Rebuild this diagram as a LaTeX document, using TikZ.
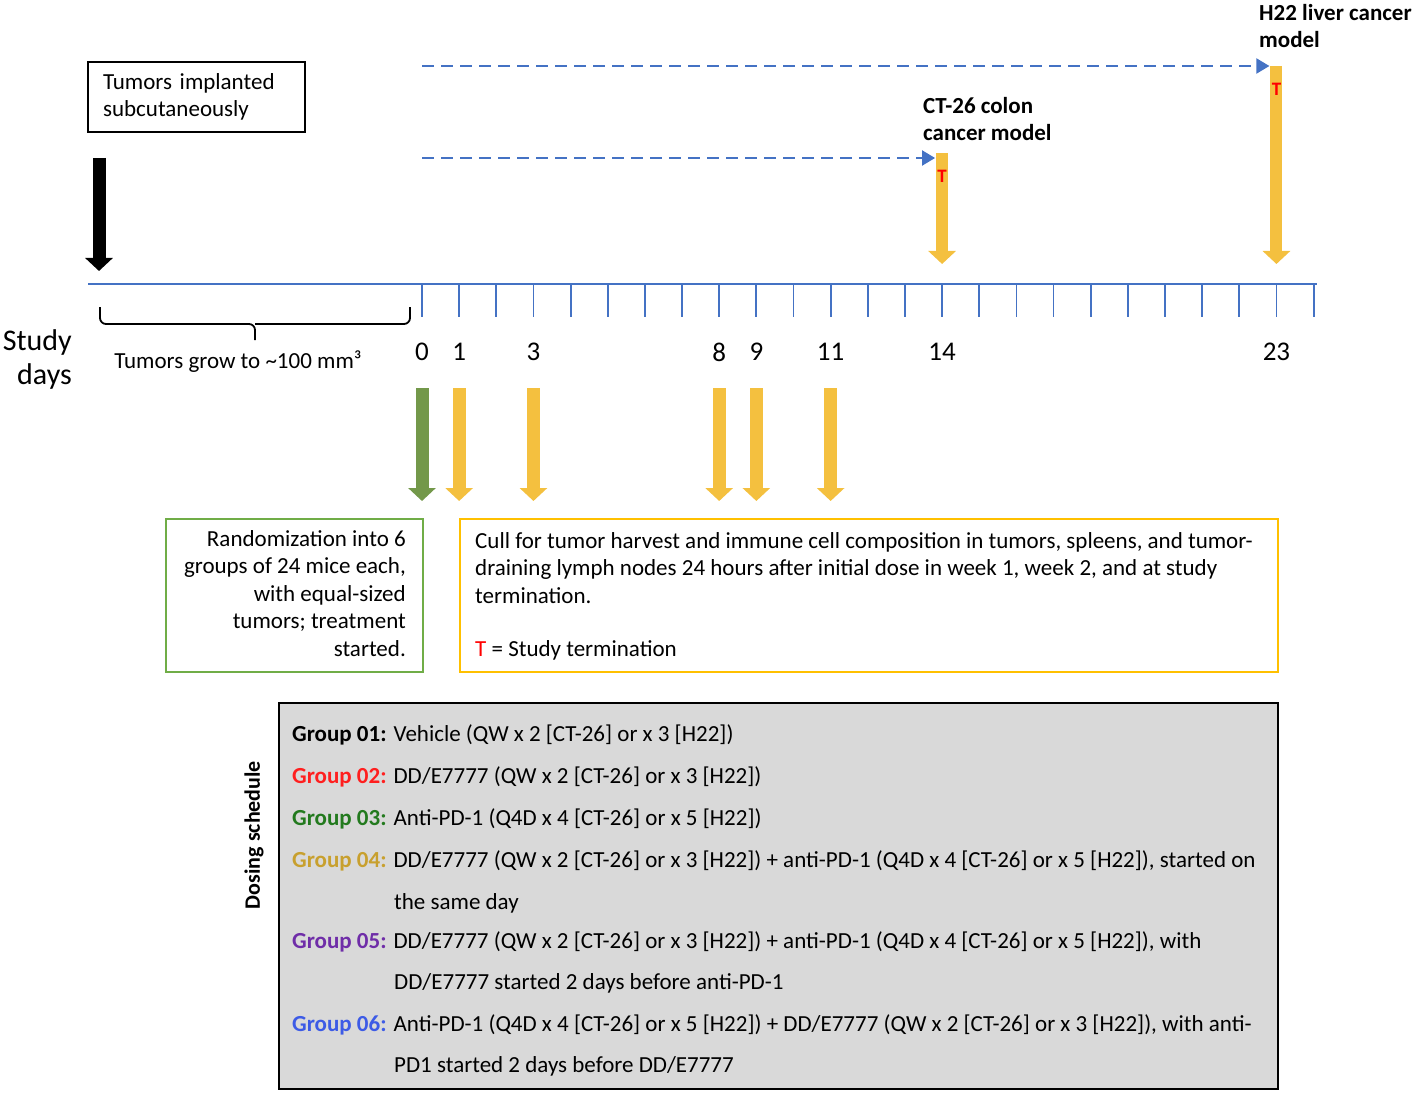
\documentclass[tikz,border=0pt]{standalone}
\usepackage{fontspec}
\setmainfont{Carlito}
\usetikzlibrary{arrows.meta,positioning}

\definecolor{axisblue}{HTML}{4472C4}
\definecolor{doseyellow}{HTML}{F4C03F}
\definecolor{randgreen}{HTML}{73984A}
\definecolor{greenframe}{HTML}{70AD47}
\definecolor{orangeframe}{HTML}{FFC000}
\definecolor{panelgray}{HTML}{D9D9D9}
\definecolor{grpred}{HTML}{FF1F1F}
\definecolor{grpgreen}{HTML}{237A1E}
\definecolor{grpgold}{HTML}{C8A02E}
\definecolor{grppurple}{HTML}{6F2DA8}
\definecolor{grpblue}{HTML}{3D5BE6}

% x position of a study day on the axis
\newcommand{\dayx}[1]{422+37.15*#1}

\begin{document}
\begin{tikzpicture}[x=1pt, y=-1pt,
    every node/.style={font=\fontsize{23}{27.5}\selectfont},
    txt/.style={inner sep=0pt, anchor=base west},
    fatarrow/.style={line width=13pt, -{Triangle[width=27pt,length=13pt]}},
    dosearrow/.style={fatarrow, doseyellow},
    dasharrow/.style={axisblue, line width=2pt, dash pattern=on 12pt off 7pt, -{Triangle[width=15pt,length=13pt]}},
    daynum/.style={font=\fontsize{27}{30}\selectfont},
    modellabel/.style={txt, align=left, font=\bfseries\fontsize{23}{27}\selectfont},
    termT/.style={text=red, font=\bfseries\fontsize{19}{19}\selectfont, inner sep=0pt},
    infobox/.style={draw, line width=2pt, anchor=north west, minimum height=153pt, inner sep=0pt}
]
\useasboundingbox (0,0) rectangle (1417,1094);

% time axis
\draw[axisblue, line width=2.2pt] (88,284) -- (1317,284);
\foreach \d in {0,...,24}{
  \coordinate (t\d) at ({\dayx{\d}},284);
  \draw[axisblue, line width=1.8pt] (t\d) -- ++(0,33);
}
\foreach \d in {0,1,3,8,9,11,14,23}
  \node[daynum] (day\d) at ({\dayx{\d}},352) {\d};
\node[font=\fontsize{30}{34}\selectfont, align=right, anchor=east, inner sep=0pt] (study) at (72,360) {Study\\days};

% implantation
\node[draw, line width=2.2pt, anchor=north west, minimum width=217pt, minimum height=70pt,
      text width=187pt, inner xsep=15pt, align=left] (implant) at (87,61) {Tumors implanted\\subcutaneously};
\coordinate (imp top) at (99,158);
\coordinate (imp tip) at (99,271);
\draw[fatarrow, black] (imp top) -- (imp tip);

% growth phase
\draw[line width=1.8pt, rounded corners=6pt] (100,307) |- (255,324) -- (255,340) (255,324) -| (410,307);
\node (grow) at (238,362) {Tumors grow to \textasciitilde100 mm³};

% CT-26 model
\coordinate (ct top) at ({\dayx{14}},153);
\coordinate (ct tip) at ({\dayx{14}},264);
\coordinate (ct start) at (422,158);
\draw[dosearrow, line width=12pt] (ct top) -- (ct tip);
\node[termT] (ct T) at ({\dayx{14}},176) {T};
\draw[dasharrow, shorten >=7pt] (ct start) -- (ct start -| ct top);
\node[modellabel] (ct label) at (923,141) {CT-26 colon\\cancer model};

% H22 model
\coordinate (h22 top) at ({\dayx{23}},66);
\coordinate (h22 tip) at ({\dayx{23}},264);
\coordinate (h22 start) at (422,66);
\draw[dosearrow, line width=12pt] (h22 top) -- (h22 tip);
\node[termT] (h22 T) at ({\dayx{23}},89) {T};
\draw[dasharrow, shorten >=7pt] (h22 start) -- (h22 start -| h22 top);
\node[modellabel] (h22 label) at (1259,48) {H22 liver cancer\\model};

% randomization and culls
\coordinate (rand top) at ({\dayx{0}},388);
\coordinate (rand tip) at ({\dayx{0}},501);
\draw[fatarrow, randgreen] (rand top) -- (rand tip);
\foreach \d in {1,3,8,9,11}{
  \coordinate (cull top\d) at ({\dayx{\d}},388);
  \coordinate (cull tip\d) at ({\dayx{\d}},501);
  \draw[dosearrow] (cull top\d) -- (cull tip\d);
}

\node[infobox, draw=greenframe, minimum width=257pt] (rand) at (165,518) {};
\node[inner sep=0pt, anchor=north east, align=right] (rand text) at (406,530)
  {Randomization into 6\\groups of 24 mice each,\\with equal-sized\\tumors; treatment\\started.};
\node[infobox, draw=orangeframe, minimum width=818pt] (cull) at (459,518) {};
\node[inner sep=0pt, anchor=north west, align=left] (cull text) at (475,532)
  {Cull for tumor harvest and immune cell composition in tumors, spleens, and tumor-\\draining lymph nodes 24 hours after initial dose in week 1, week 2, and at study\\termination.\\[26pt]\textcolor{red}{T} = Study termination};

% dosing schedule
\node[draw, line width=2.2pt, fill=panelgray, anchor=north west, minimum width=999pt, minimum height=386pt, inner sep=0pt] (panel) at (278,702) {};
\node[rotate=90, font=\bfseries\fontsize{22}{24}\selectfont] (dosing) at (254,835) {Dosing schedule};

\node[txt] (g1) at (292,741) {\textbf{Group 01:} Vehicle (QW x 2 [CT-26] or x 3 [H22])};
\node[txt] (g2) at (292,783) {\textcolor{grpred}{\textbf{Group 02:}} DD/E7777 (QW x 2 [CT-26] or x 3 [H22])};
\node[txt] (g3) at (292,825) {\textcolor{grpgreen}{\textbf{Group 03:}} Anti-PD-1 (Q4D x 4 [CT-26] or x 5 [H22])};
\node[txt] (g4) at (292,867) {\textcolor{grpgold}{\textbf{Group 04:}} DD/E7777 (QW x 2 [CT-26] or x 3 [H22]) + anti-PD-1 (Q4D x 4 [CT-26] or x 5 [H22]), started on};
\node[txt] (g4b) at (394,909) {the same day};
\node[txt] (g5) at (292,948) {\textcolor{grppurple}{\textbf{Group 05:}} DD/E7777 (QW x 2 [CT-26] or x 3 [H22]) + anti-PD-1 (Q4D x 4 [CT-26] or x 5 [H22]), with};
\node[txt] (g5b) at (394,989) {DD/E7777 started 2 days before anti-PD-1};
\node[txt] (g6) at (292,1031) {\textcolor{grpblue}{\textbf{Group 06:}} Anti-PD-1 (Q4D x 4 [CT-26] or x 5 [H22]) + DD/E7777 (QW x 2 [CT-26] or x 3 [H22]), with anti-};
\node[txt] (g6b) at (394,1072) {PD1 started 2 days before DD/E7777};
\end{tikzpicture}
\end{document}
